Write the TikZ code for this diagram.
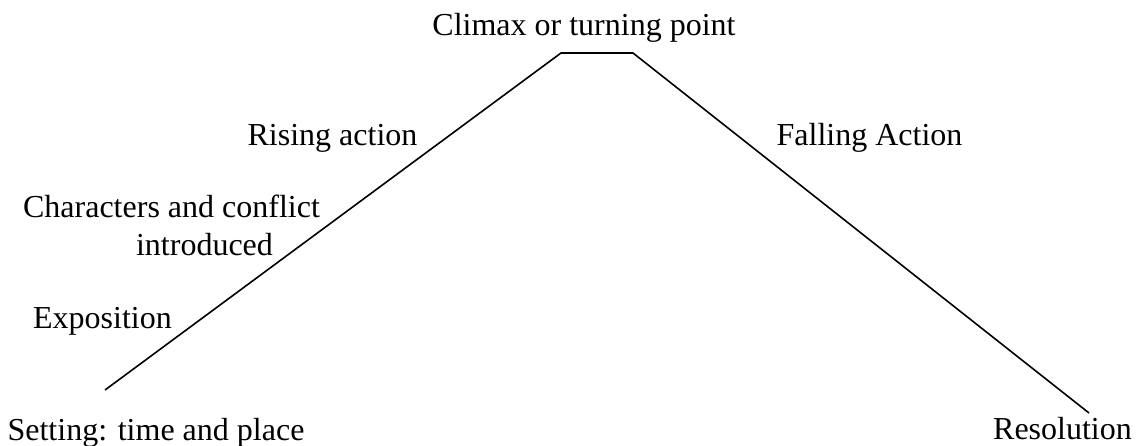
\documentclass[tikz,border=0pt]{standalone}
\usepackage{fontspec}
\setmainfont{Liberation Serif}
\begin{document}
\begin{tikzpicture}[x=1pt,y=-1pt,
  lbl/.style={anchor=base,inner sep=0pt,font=\fontsize{32}{38}\selectfont},
  arc/.style={line width=1.6pt,line join=miter,black}]
\useasboundingbox (0,0) rectangle (1136,445);
\coordinate (s) at (105,390);
\coordinate (pl) at (561,53);
\coordinate (pr) at (633,53);
\coordinate (e) at (1089,413);
\draw[arc] (s) -- (pl) -- (pr) -- (e);
\node[lbl] (climax) at (584,35) {Climax or turning point};
\node[lbl] (rising) at (332.5,145) {Rising action};
\node[lbl] (falling) at (869.5,145) {Falling Action};
\node[lbl] (chars) at (171.5,217) {Characters and conflict};
\node[lbl] (intro) at (204.5,255) {introduced};
\node[lbl] (expo) at (102.5,328) {Exposition};
\node[lbl] (setting) at (156,440) {Setting: time and place};
\node[lbl] (resol) at (1062.5,439) {Resolution};
\end{tikzpicture}
\end{document}
